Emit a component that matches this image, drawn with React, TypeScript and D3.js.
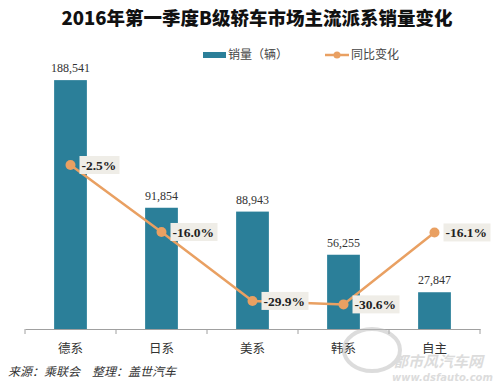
import React, { useEffect, useRef } from "react";
import * as d3 from "d3";

const categories = ["德系", "日系", "美系", "韩系", "自主"];
const sales = [188541, 91854, 88943, 56255, 27847];
const changes = [-2.5, -16.0, -29.9, -30.6, -16.1];
const title = "2016年第一季度B级轿车市场主流派系销量变化";
const source = "来源：乘联会　整理：盖世汽车";

const W = 500;
const H = 387;
const barColor = "#2b7f99";
const lineColor = "#e9a062";

export default function App() {
    const ref: any = useRef(null);

    useEffect(() => {
        const svg = d3.select(ref.current);
        svg.selectAll("*").remove();

        const x = d3.scaleBand().domain(categories).range([25, 480]).paddingInner(0.64).paddingOuter(0.32);
        const band = d3.scaleBand().domain(categories).range([25, 480]);
        const y = d3.scaleLinear().domain([0, 200000]).range([329, 65]);
        const y2 = d3.scaleLinear().domain([-35.56, 0]).range([329, 152.6]);

        svg.append("rect").attr("width", W).attr("height", H).attr("fill", "#fff");

        // title
        svg.append("text")
            .attr("x", 257).attr("y", 25)
            .attr("text-anchor", "middle")
            .style("font-family", "'Noto Sans CJK SC', sans-serif")
            .style("font-weight", 900)
            .style("font-size", "18.5px")
            .attr("fill", "#111")
            .text(title);

        // legend
        const lg = svg.append("g").style("font-family", "'Noto Sans CJK SC', sans-serif").style("font-size", "12px").attr("fill", "#444");
        lg.append("rect").attr("x", 203).attr("y", 52).attr("width", 23).attr("height", 6).attr("fill", barColor);
        lg.append("text").attr("x", 228).attr("y", 59).text("销量（辆）");
        lg.append("line").attr("x1", 325).attr("x2", 349).attr("y1", 55).attr("y2", 55).attr("stroke", lineColor).attr("stroke-width", 2.5);
        lg.append("circle").attr("cx", 337).attr("cy", 55).attr("r", 3.5).attr("fill", lineColor);
        lg.append("text").attr("x", 351).attr("y", 59).text("同比变化");

        // bars
        svg.append("g").selectAll("rect").data(sales).join("rect")
            .attr("x", (_d, i) => x(categories[i]) as number)
            .attr("width", x.bandwidth())
            .attr("y", d => y(d))
            .attr("height", d => y(0) - y(d))
            .attr("fill", barColor);

        svg.append("g").selectAll("text").data(sales).join("text")
            .attr("x", (_d, i) => (x(categories[i]) as number) + x.bandwidth() / 2)
            .attr("y", d => y(d) - 8)
            .attr("text-anchor", "middle")
            .style("font-family", "'Liberation Serif', serif")
            .style("font-size", "12px")
            .attr("fill", "#333")
            .text(d => d3.format(",")(d));

        // axis
        const axis = d3.axisBottom(band).tickSize(0).tickFormat(() => "");
        const ag = svg.append("g").attr("transform", "translate(0,329)").call(axis);
        ag.select(".domain").attr("stroke", "#a0a0a0").attr("stroke-width", 1.2);
        const edges = [25, ...categories.map(c => (band(c) as number) + band.bandwidth())];
        svg.append("g").selectAll("line").data(edges).join("line")
            .attr("x1", d => d).attr("x2", d => d).attr("y1", 329).attr("y2", 334)
            .attr("stroke", "#a0a0a0");
        svg.append("g").selectAll("text").data(categories).join("text")
            .attr("x", d => (band(d) as number) + band.bandwidth() / 2)
            .attr("y", 353)
            .attr("text-anchor", "middle")
            .style("font-family", "'Noto Sans CJK SC', sans-serif")
            .style("font-size", "12.5px")
            .attr("fill", "#333")
            .text(d => d);

        // line
        const cx = (i: number) => (band(categories[i]) as number) + band.bandwidth() / 2;
        const line: any = d3.line<number>().x((_d, i) => cx(i)).y(d => y2(d));
        svg.append("path").datum(changes)
            .attr("d", line).attr("fill", "none")
            .attr("stroke", lineColor).attr("stroke-width", 2.5);
        svg.append("g").selectAll("circle").data(changes).join("circle")
            .attr("cx", (_d, i) => cx(i)).attr("cy", d => y2(d)).attr("r", 5)
            .attr("fill", lineColor);

        const fmt = (d: number) => d.toFixed(1) + "%";
        const lbl = svg.append("g").selectAll("g").data(changes).join("g")
            .attr("transform", (d, i) => `translate(${cx(i) + 9},${y2(d)})`);
        lbl.append("rect").attr("x", 0).attr("y", -9)
            .attr("width", d => (fmt(d).length > 5 ? 47 : 40)).attr("height", 18).attr("fill", "#efede7");
        lbl.append("text").attr("x", 2).attr("y", 5)
            .style("font-family", "'Liberation Serif', serif")
            .style("font-weight", "bold")
            .style("font-size", "13.5px")
            .attr("fill", "#222")
            .text(d => fmt(d));

        // source
        svg.append("text")
            .attr("x", 8).attr("y", 376)
            .style("font-family", "'Noto Sans CJK SC', sans-serif")
            .style("font-style", "italic")
            .style("font-size", "12px")
            .attr("fill", "#333")
            .text(source);

        // watermark
        const wm = svg.append("g").attr("opacity", 0.5);
        wm.append("ellipse").attr("cx", 372).attr("cy", 350).attr("rx", 28).attr("ry", 21)
            .attr("fill", "none").attr("stroke", "#bbb").attr("stroke-width", 4);
        wm.append("text").attr("x", 393).attr("y", 367)
            .style("font-family", "'Noto Sans CJK SC', sans-serif")
            .style("font-style", "italic").style("font-weight", "bold")
            .style("font-size", "15px").attr("fill", "#bbb")
            .text("都市风汽车网");
        wm.append("text").attr("x", 392).attr("y", 381)
            .style("font-family", "'DejaVu Sans', sans-serif")
            .style("font-style", "italic").style("font-weight", "bold")
            .style("font-size", "10px").attr("fill", "#bbb")
            .text("www.dsfauto.com");
    }, []);

    return (
        <svg ref={ref} width={W} height={H} style={{ position: "absolute", left: 0, top: 0 }}></svg>
    );
}
